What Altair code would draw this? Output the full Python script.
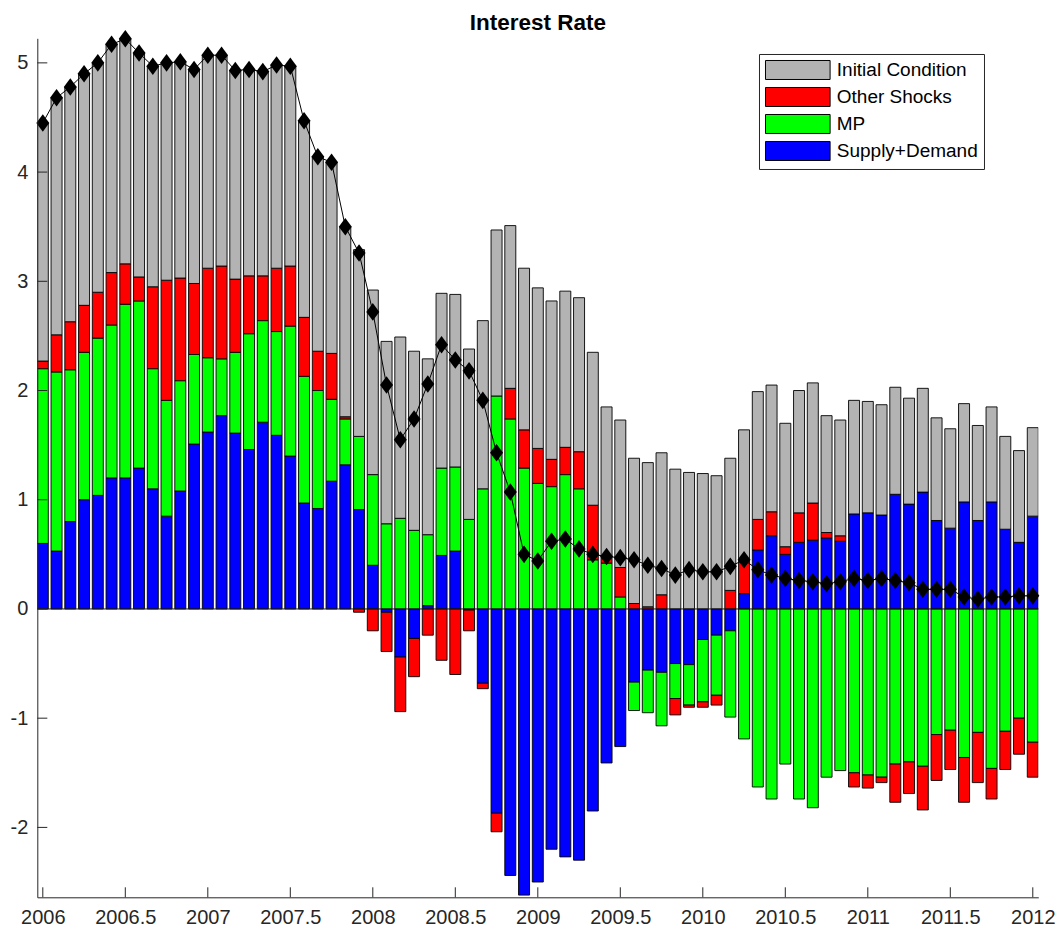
import altair as alt
import pandas as pd

# ---------------- data ----------------
months = [2006 + k / 12 for k in range(73)]

supply_demand = [0.60, 0.53, 0.80, 1.00, 1.04, 1.20, 1.20, 1.29, 1.10, 0.85,
                 1.08, 1.51, 1.62, 1.77, 1.61, 1.46, 1.71, 1.59, 1.40, 0.97,
                 0.92, 1.17, 1.32, 0.91, 0.40, -0.03, -0.44, -0.27, 0.03, 0.49,
                 0.53, -0.01, -0.68, -1.87, -2.44, -2.62, -2.50, -2.20, -2.27, -2.30,
                 -1.85, -1.41, -1.26, -0.67, -0.56, -0.58, -0.50, -0.51, -0.28, -0.24,
                 -0.20, 0.14, 0.54, 0.67, 0.50, 0.61, 0.63, 0.65, 0.62, 0.87,
                 0.88, 0.86, 1.05, 0.96, 1.07, 0.81, 0.74, 0.98, 0.81, 0.98,
                 0.73, 0.61, 0.85]

mp = [1.60, 1.64, 1.39, 1.35, 1.44, 1.40, 1.59, 1.53, 1.10, 1.06,
      1.01, 0.82, 0.68, 0.52, 0.74, 1.06, 0.93, 0.95, 1.19, 1.16,
      1.08, 0.75, 0.42, 0.67, 0.83, 0.78, 0.83, 0.72, 0.65, 0.80,
      0.77, 0.82, 1.10, 1.95, 1.74, 1.29, 1.15, 1.12, 1.23, 1.10,
      0.45, 0.42, 0.11, -0.26, -0.39, -0.49, -0.32, -0.37, -0.57, -0.55,
      -0.79, -1.19, -1.63, -1.74, -1.42, -1.74, -1.82, -1.54, -1.48, -1.50,
      -1.52, -1.54, -1.42, -1.40, -1.44, -1.15, -1.11, -1.36, -1.13, -1.46,
      -1.12, -1.00, -1.22]

other_shocks = [0.07, 0.34, 0.44, 0.43, 0.42, 0.48, 0.37, 0.22, 0.75, 1.10,
                0.94, 0.65, 0.82, 0.85, 0.67, 0.53, 0.41, 0.58, 0.55, 0.54,
                0.36, 0.42, 0.02, -0.03, -0.20, -0.36, -0.50, -0.35, -0.24, -0.47,
                -0.60, -0.19, -0.05, -0.17, 0.28, 0.35, 0.32, 0.25, 0.25, 0.34,
                0.50, 0.05, 0.27, 0.05, 0.02, 0.13, -0.15, -0.02, -0.05, -0.09,
                0.17, 0.32, 0.28, 0.22, 0.07, 0.27, 0.34, 0.05, 0.05, -0.13,
                -0.12, -0.05, -0.35, -0.29, -0.40, -0.42, -0.36, -0.41, -0.46, -0.28,
                -0.35, -0.33, -0.32]

initial_condition = [2.18, 2.17, 2.15, 2.12, 2.10, 2.09, 2.06, 2.05, 2.02, 1.99,
                     1.98, 1.96, 1.95, 1.93, 1.91, 1.89, 1.87, 1.86, 1.83, 1.80,
                     1.78, 1.75, 1.74, 1.71, 1.69, 1.67, 1.66, 1.64, 1.61, 1.60,
                     1.58, 1.56, 1.54, 1.52, 1.49, 1.48, 1.47, 1.45, 1.43, 1.41,
                     1.40, 1.38, 1.35, 1.33, 1.32, 1.30, 1.28, 1.25, 1.24, 1.22,
                     1.21, 1.18, 1.17, 1.16, 1.13, 1.12, 1.10, 1.07, 1.06, 1.04,
                     1.02, 1.01, 0.98, 0.97, 0.95, 0.94, 0.91, 0.90, 0.87, 0.87,
                     0.85, 0.84, 0.81]

interest_rate = [4.45, 4.68, 4.78, 4.90, 5.00, 5.17, 5.22, 5.09, 4.97, 5.00,
                 5.01, 4.94, 5.07, 5.07, 4.93, 4.94, 4.92, 4.98, 4.97, 4.47,
                 4.14, 4.09, 3.50, 3.26, 2.72, 2.05, 1.55, 1.74, 2.06, 2.42,
                 2.28, 2.18, 1.91, 1.43, 1.07, 0.50, 0.44, 0.62, 0.64, 0.55,
                 0.50, 0.48, 0.47, 0.45, 0.40, 0.37, 0.31, 0.36, 0.34, 0.34,
                 0.39, 0.45, 0.36, 0.31, 0.28, 0.26, 0.25, 0.23, 0.25, 0.28,
                 0.26, 0.28, 0.26, 0.24, 0.18, 0.18, 0.18, 0.11, 0.09, 0.11,
                 0.11, 0.12, 0.12]

series_names = ["Initial Condition", "Other Shocks", "MP", "Supply+Demand"]
series_colors = ["#b3b3b3", "#ff0000", "#00ff00", "#0000ff"]

x_ticks = [2006 + 0.5 * k for k in range(13)]
y_ticks = [-2, -1, 0, 1, 2, 3, 4, 5]

# ---------------- tables (stacked: positives up, negatives down) ----------------
stack_sequence = [("Supply+Demand", supply_demand), ("MP", mp),
                  ("Other Shocks", other_shocks), ("Initial Condition", initial_condition)]
rows = []
for i, t in enumerate(months):
    pos, neg = 0.0, 0.0
    for name, vals in stack_sequence:
        v = vals[i]
        if v >= 0:
            lo, hi = pos, pos + v
            pos = hi
        else:
            lo, hi = neg, neg + v
            neg = hi
        rows.append({"t": t, "series": name, "lo": lo, "hi": hi})
bars_df = pd.DataFrame(rows)
line_df = pd.DataFrame({"t": months, "rate": interest_rate})

FONT = "Liberation Sans"
AX = "#262626"
W, H = 1001, 859

x_scale = alt.Scale(domain=[2006 - 1 / 30, 2012 + 1 / 30], nice=False, zero=False)
y_scale = alt.Scale(domain=[-2.64, 5.225], nice=False, zero=False)

x_axis = alt.Axis(values=x_ticks, labelExpr="'' + datum.value", title=None,
                  ticks=False, tickSize=0, grid=False, domainColor=AX,
                  domainWidth=1, labelColor=AX, labelFont=FONT,
                  labelFontSize=20, labelPadding=10, labelFlush=False,
                  labelOverlap=False, zindex=1)
y_axis = alt.Axis(values=y_ticks, labelExpr="'' + datum.value", title=None,
                  ticks=False, tickSize=0, grid=False, domainColor=AX,
                  domainWidth=1, labelColor=AX, labelFont=FONT,
                  labelFontSize=20, labelPadding=9.5, labelFlush=False,
                  labelOverlap=False, zindex=1)

bars = (
    alt.Chart(bars_df)
    .transform_calculate(x0="datum.t - 1/30", x1="datum.t + 1/30")
    .mark_bar(stroke="black", strokeWidth=0.9, clip=True)
    .encode(
        x=alt.X("x0:Q", scale=x_scale, axis=x_axis),
        x2="x1:Q",
        y=alt.Y("lo:Q", scale=y_scale, axis=y_axis),
        y2="hi:Q",
        color=alt.Color("series:N",
                        scale=alt.Scale(domain=series_names, range=series_colors),
                        legend=alt.Legend(title=None, orient="none",
                                          legendX=721.7, legendY=15.7,
                                          symbolType="M-3.4,-1H3.4V1H-3.4Z",
                                          symbolSize=361, symbolOffset=22.8,
                                          labelOffset=29,
                                          symbolStrokeColor="black", symbolStrokeWidth=1,
                                          symbolOpacity=1,
                                          labelFont=FONT, labelFontSize=19,
                                          labelColor="black", rowPadding=3,
                                          padding=6, strokeColor=AX,
                                          fillColor="white", cornerRadius=0)),
    )
)

zero_line = (
    alt.Chart(pd.DataFrame({"v": [0]}))
    .mark_rule(color="#1a1a1a", strokeWidth=1)
    .encode(y=alt.Y("v:Q", scale=y_scale, axis=y_axis))
)

rate_line = (
    alt.Chart(line_df)
    .mark_line(color="black", strokeWidth=1)
    .encode(x=alt.X("t:Q", scale=x_scale, axis=x_axis),
            y=alt.Y("rate:Q", scale=y_scale, axis=y_axis))
)

rate_points = (
    alt.Chart(line_df)
    .mark_point(shape="M0,-1.35L1,0L0,1.35L-1,0Z", filled=True, color="black",
                size=169, opacity=1)
    .encode(x=alt.X("t:Q", scale=x_scale, axis=x_axis),
            y=alt.Y("rate:Q", scale=y_scale, axis=y_axis))
)

y_tick_marks = (
    alt.Chart(pd.DataFrame({"v": y_ticks}))
    .mark_rule(color=AX, strokeWidth=1)
    .encode(y=alt.Y("v:Q", scale=y_scale, axis=y_axis),
            x=alt.value(0), x2=alt.value(10))
)

x_tick_marks = (
    alt.Chart(pd.DataFrame({"v": x_ticks}))
    .mark_rule(color=AX, strokeWidth=1)
    .encode(x=alt.X("v:Q", scale=x_scale, axis=x_axis),
            y=alt.value(H), y2=alt.value(H - 10))
)

chart = (
    alt.layer(bars, zero_line, rate_line, rate_points, y_tick_marks, x_tick_marks)
    .properties(
        width=W, height=H,
        title=alt.TitleParams(text="Interest Rate", fontSize=22.5, fontWeight="bold",
                              font=FONT, color="black", anchor="middle",
                              frame="group", offset=-4),
        autosize=alt.AutoSizeParams(type="none"),
        padding={"left": 29.3, "top": 30.3, "right": 17.5, "bottom": 40},
    )
    .configure(font=FONT)
    .configure_view(stroke=None)
)

chart.save("out.html", embed_options={"renderer": "svg", "actions": False})
